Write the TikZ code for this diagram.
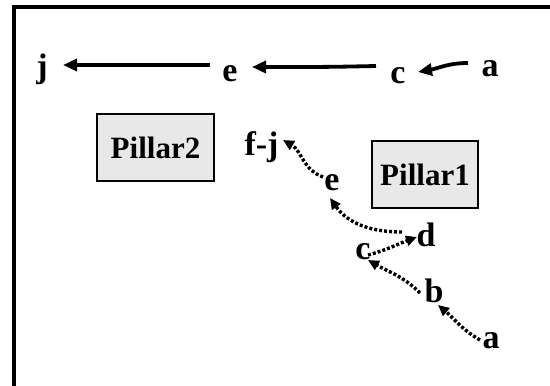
\documentclass[tikz,border=0pt]{standalone}
\usepackage{fontspec}
\setmainfont{Liberation Serif}
\usetikzlibrary{arrows.meta}
\usetikzlibrary{calc}

\tikzset{
  lbl/.style={font=\fontsize{34}{40}\selectfont\bfseries, inner sep=0pt, anchor=base},
  pillar/.style={draw, line width=1.5pt, fill=black!9, inner sep=0pt, minimum height=67pt,
    font=\fontsize{31}{36}\selectfont\bfseries},
  road/.style={line width=3.8pt, -{Triangle[length=14pt,width=12pt]}},
  trail/.style={line width=3.4pt, dash pattern=on 3pt off 2pt, -{Triangle[length=11pt,width=10pt]}}
}

\begin{document}
\begin{tikzpicture}[x=1pt, y=-1pt]

    \useasboundingbox (0,0) rectangle (550,386);
    \clip (0,0) rectangle (550,386);
    \draw[line width=3.8pt] (13.8,7) rectangle (600,450);

    % upper route
    \node[lbl] (tj) at (42,77) {j};
    \node[lbl] (te) at (230,81) {e};
    \node[lbl] (tc) at (398,83) {c};
    \node[lbl] (ta) at (490,76) {a};

    \draw[road] ($(ta.base)+(-22,-13)$) to[out=180, in=10] ($(tc.base)+(20,-11)$);
    \draw[road] ($(tc.base)+(-22,-17)$) .. controls ($(tc.base)+(-70,-16)$) .. ($(te.base)+(22,-14)$);
    \draw[road] ($(te.base)+(-20,-16)$) -- ($(tj.base)+(21,-12)$);

    % pillars
    \node[pillar, minimum width=117pt] (p2) at (155.5,147.5) {Pillar2};
    \node[pillar, minimum width=106pt] (p1) at (425,174.5) {Pillar1};

    % lower route
    \node[lbl] (fj) at (261.5,155) {f-j};
    \node[lbl] (be) at (332,190) {e};
    \node[lbl] (bd) at (426,246) {d};
    \node[lbl] (bc) at (363,259) {c};
    \node[lbl] (bb) at (434,302) {b};
    \node[lbl] (ba) at (491,348) {a};

    \draw[trail] ($(ba.base)+(-11,-8)$) to[out=150, in=-40] ($(bb.base)+(4,3)$);
    \draw[trail] ($(bb.base)+(-14,-9)$) to[out=135, in=-30] ($(bc.base)+(5,1)$);
    \draw[trail] ($(bc.base)+(5,-4)$) to[out=15, in=200] ($(bd.base)+(-9,-9)$);
    \draw[trail] ($(bd.base)+(-24,-14)$) to[out=180, in=-55] ($(be.base)+(-2,8)$);
    \draw[trail] ($(be.base)+(-9,-13)$) to[out=160, in=-30] ($(fj.base)+(21.5,-15)$);

\end{tikzpicture}
\end{document}
